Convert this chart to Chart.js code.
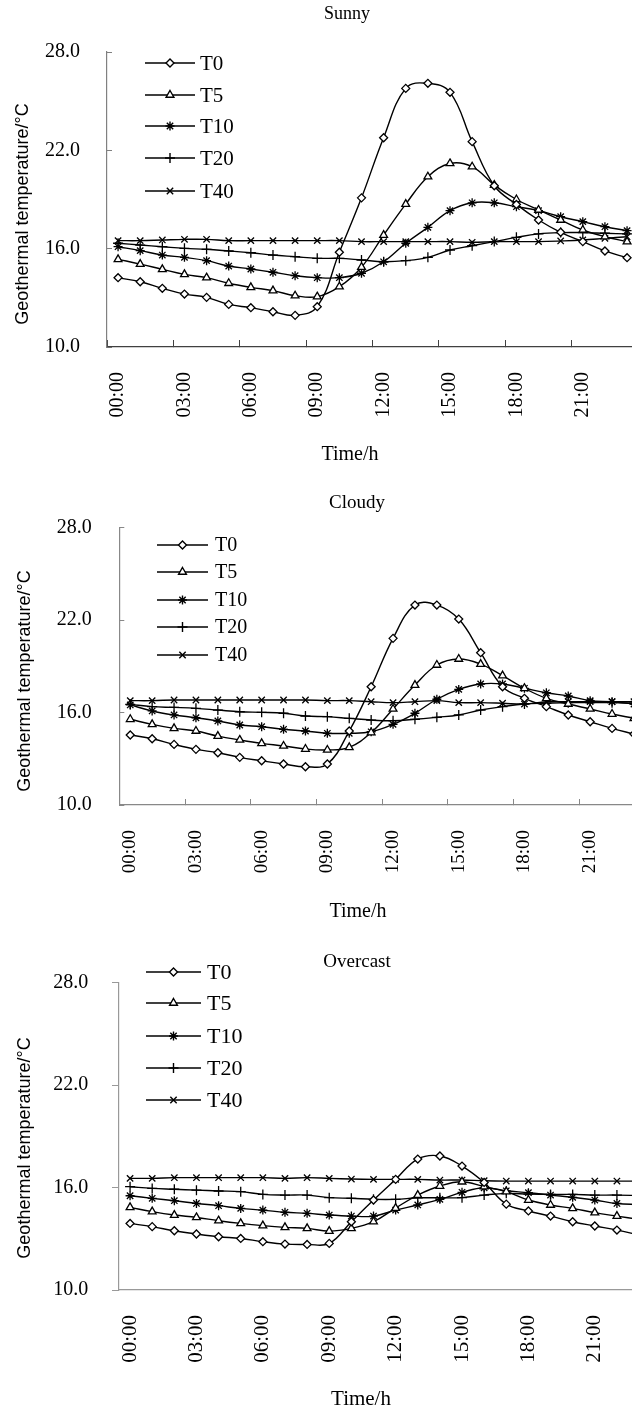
<!DOCTYPE html>
<html><head><meta charset="utf-8">
<script src="https://cdn.jsdelivr.net/npm/chart.js@4.4.0/dist/chart.umd.min.js"></script>
<style>
html,body{margin:0;padding:0;background:#fff;overflow:hidden;width:632px;height:1411px;position:relative}
.box{position:absolute;left:0}
canvas{display:block}
</style></head>
<body>
<div class="box" style="top:0px"><canvas id="c1" width="700" height="470"></canvas></div>
<div class="box" style="top:470px"><canvas id="c2" width="700" height="460"></canvas></div>
<div class="box" style="top:930px"><canvas id="c3" width="700" height="481"></canvas></div>
<script>
// ---------------- data ----------------
const hours = ['00:00','01:00','02:00','03:00','04:00','05:00','06:00','07:00','08:00','09:00','10:00','11:00',
               '12:00','13:00','14:00','15:00','16:00','17:00','18:00','19:00','20:00','21:00','22:00','23:00'];
const xTickLabels = ['00:00','03:00','06:00','09:00','12:00','15:00','18:00','21:00'];
const yTickValues = [10, 16, 22, 28];
const seriesNames = ['T0','T5','T10','T20','T40'];
const panelTitles = ['Sunny','Cloudy','Overcast'];
const xTitle = 'Time/h';
const yTitle = 'Geothermal temperature/°C';

const sunnyT0  = [14.23,13.98,13.58,13.23,13.03,12.6,12.4,12.15,11.93,12.46,15.78,19.1,22.77,25.78,26.09,25.54,22.53,19.84,18.7,17.75,17.0,16.43,15.86,15.45];
const sunnyT5  = [15.35,15.06,14.74,14.43,14.23,13.89,13.64,13.44,13.13,13.07,13.68,14.87,16.83,18.72,20.39,21.2,21.0,19.88,19.0,18.36,17.75,17.14,16.73,16.43];
const sunnyT10 = [16.12,15.88,15.61,15.47,15.27,14.94,14.76,14.56,14.35,14.23,14.23,14.5,15.2,16.33,17.3,18.32,18.8,18.8,18.56,18.32,17.95,17.65,17.34,17.1];
const sunnyT20 = [16.33,16.22,16.12,16.02,15.96,15.86,15.75,15.61,15.51,15.41,15.41,15.31,15.2,15.27,15.47,15.92,16.18,16.43,16.69,16.9,16.98,16.98,16.94,16.9];
const sunnyT40 = [16.49,16.49,16.53,16.57,16.57,16.49,16.49,16.49,16.49,16.49,16.49,16.43,16.43,16.43,16.43,16.43,16.39,16.43,16.43,16.43,16.47,16.53,16.63,16.73];

const cloudyT0  = [14.54,14.3,13.93,13.61,13.39,13.09,12.87,12.66,12.48,12.66,14.8,17.67,20.81,22.97,22.97,22.06,19.88,17.67,16.92,16.38,15.84,15.4,14.97,14.6];
const cloudyT5  = [15.56,15.23,14.97,14.8,14.47,14.22,14.0,13.83,13.63,13.57,13.74,14.7,16.23,17.78,19.08,19.47,19.14,18.39,17.57,16.92,16.55,16.23,15.9,15.62];
const cloudyT10 = [16.49,16.1,15.84,15.66,15.45,15.19,15.08,14.91,14.8,14.65,14.65,14.75,15.23,15.95,16.86,17.5,17.85,17.85,17.57,17.28,17.07,16.77,16.7,16.55];
const cloudyT20 = [16.53,16.38,16.33,16.27,16.16,16.05,16.01,15.95,15.77,15.73,15.62,15.51,15.47,15.56,15.69,15.84,16.16,16.38,16.55,16.6,16.64,16.64,16.64,16.6];
const cloudyT40 = [16.77,16.77,16.81,16.81,16.81,16.81,16.81,16.81,16.81,16.77,16.77,16.7,16.64,16.7,16.77,16.64,16.64,16.6,16.55,16.7,16.7,16.7,16.7,16.7];

const overcastT0  = [13.9,13.71,13.47,13.28,13.12,13.02,12.83,12.69,12.67,12.73,14.0,15.27,16.48,17.67,17.85,17.26,16.3,15.03,14.63,14.33,14.0,13.75,13.51,13.22];
const overcastT5  = [14.84,14.59,14.39,14.25,14.06,13.9,13.77,13.67,13.61,13.45,13.61,14.0,14.8,15.56,16.09,16.34,16.05,15.76,15.27,14.98,14.78,14.53,14.33,14.14];
const overcastT10 = [15.52,15.37,15.23,15.07,14.94,14.78,14.68,14.55,14.49,14.39,14.33,14.33,14.68,14.98,15.31,15.72,15.99,15.81,15.7,15.56,15.43,15.27,15.07,15.0];
const overcastT20 = [16.05,15.95,15.9,15.85,15.8,15.76,15.6,15.56,15.56,15.41,15.37,15.31,15.31,15.4,15.4,15.41,15.56,15.66,15.62,15.6,15.6,15.56,15.56,15.53];
const overcastT40 = [16.54,16.54,16.58,16.58,16.58,16.58,16.58,16.54,16.58,16.54,16.5,16.48,16.48,16.48,16.44,16.44,16.4,16.38,16.38,16.38,16.38,16.38,16.38,16.38];

// ---------------- styling ----------------
const SERIF = "'Liberation Serif','Times New Roman',serif";
const SANS = "'Liberation Sans',Arial,sans-serif";
const markerStyles = [
  {pointStyle:'rectRot', radius:4},
  {pointStyle:'triangle', radius:4.5},
  {pointStyle:'star', radius:4.5},
  {pointStyle:'cross', radius:5},
  {pointStyle:'crossRot', radius:4.5}
];

const annotPlugin = {
  id: 'annot',
  afterDraw(chart, args, o) {
    const ctx = chart.ctx;
    ctx.save();
    ctx.fillStyle = '#000';
    // panel title
    ctx.font = o.titleSize + 'px ' + SERIF;
    ctx.textAlign = 'center'; ctx.textBaseline = 'middle';
    ctx.fillText(o.title, o.titleX, o.titleY);
    // x axis title
    ctx.font = o.xTitleSize + 'px ' + SERIF;
    ctx.fillText(xTitle, o.xTitleX, o.xTitleY);
    // y axis title
    ctx.save();
    ctx.translate(o.yTitleX, o.yTitleY);
    ctx.rotate(-Math.PI / 2);
    ctx.font = o.yTitleSize + 'px ' + SANS;
    ctx.fillText(yTitle, 0, 0);
    ctx.restore();
    // legend
    chart.data.datasets.forEach((ds, i) => {
      const y = o.legendRows[i];
      ctx.strokeStyle = '#000'; ctx.lineWidth = 1.4;
      ctx.beginPath(); ctx.moveTo(o.legX1, y); ctx.lineTo(o.legX2, y); ctx.stroke();
      ctx.fillStyle = '#fff';
      Chart.helpers.drawPoint(ctx, {pointStyle: ds.pointStyle, radius: ds.pointRadius, borderWidth: 1.3, rotation: 0},
        (o.legX1 + o.legX2) / 2, y);
      ctx.fillStyle = '#000';
      ctx.font = o.legSize + 'px ' + SERIF;
      ctx.textAlign = 'left'; ctx.textBaseline = 'middle';
      ctx.fillText(ds.label, o.legTextX, y + 1);
    });
    ctx.restore();
  }
};

function makeChart(id, series, L) {
  const W = 700;
  const plotRight = L.plotLeft + 24 * L.catW;
  const datasets = series.map((vals, i) => ({
    label: seriesNames[i],
    data: vals,
    borderColor: '#000',
    borderWidth: 1.4,
    tension: 0.4,
    fill: false,
    pointStyle: markerStyles[i].pointStyle,
    pointRadius: markerStyles[i].radius,
    pointBackgroundColor: '#fff',
    pointBorderColor: '#000',
    pointBorderWidth: 1.3
  }));
  return new Chart(document.getElementById(id), {
    type: 'line',
    data: { labels: hours, datasets },
    plugins: [annotPlugin],
    options: {
      responsive: false,
      animation: false,
      events: [],
      layout: { padding: { left: 0, top: L.plotTop, right: W - plotRight, bottom: 0 } },
      plugins: {
        legend: { display: false },
        title: { display: false },
        tooltip: { enabled: false },
        annot: L.annot
      },
      scales: {
        x: {
          type: 'category',
          offset: true,
          grid: {
            offset: true,
            drawOnChartArea: false,
            drawTicks: L.xTicks !== 0,
            tickLength: L.xTicks,
            color: c => (c.index % 3 === 0) ? L.xColor : 'rgba(0,0,0,0)',
            lineWidth: 1
          },
          border: { display: true, color: L.xColor, width: 1.2 },
          ticks: {
            autoSkip: false, maxRotation: 90, minRotation: 90,
            padding: L.xPad,
            color: '#000',
            font: { family: SERIF, size: L.xFont },
            callback: function (v) { const s = this.getLabelForValue(v); return xTickLabels.includes(s) ? s : ''; }
          },
          afterFit: s => { s.height = L.H - L.plotBottom; s.paddingLeft = 0; s.paddingRight = 0; }
        },
        y: {
          min: 10, max: 28,
          afterBuildTicks: s => { s.ticks = yTickValues.map(v => ({ value: v })); },
          grid: { drawOnChartArea: false, tickLength: L.yTicks, color: L.yColor, lineWidth: 1 },
          border: { display: true, color: L.yColor, width: 1.2 },
          ticks: {
            padding: L.yPad,
            color: '#000',
            font: { family: SERIF, size: L.yFont },
            callback: v => Number(v).toFixed(1)
          },
          afterFit: s => { s.width = L.plotLeft; }
        }
      }
    }
  });
}

// chart 1: Sunny (canvas top 0)
makeChart('c1', [sunnyT0, sunnyT5, sunnyT10, sunnyT20, sunnyT40], {
  H: 470, plotLeft: 107, plotTop: 52, plotBottom: 347, catW: 22.13,
  xTicks: -7, xPad: 32, xFont: 20, xColor: '#404040',
  yTicks: -5, yPad: 32, yFont: 20, yColor: '#808080',
  annot: {
    title: panelTitles[0], titleX: 347, titleY: 14, titleSize: 18,
    xTitleX: 350, xTitleY: 455, xTitleSize: 20,
    yTitleX: 23, yTitleY: 214, yTitleSize: 18,
    legX1: 145, legX2: 195, legTextX: 200, legSize: 21,
    legendRows: [63, 95, 126, 158, 191]
  }
});

// chart 2: Cloudy (canvas top 470)
makeChart('c2', [cloudyT0, cloudyT5, cloudyT10, cloudyT20, cloudyT40], {
  H: 460, plotLeft: 119.3, plotTop: 57.5, plotBottom: 335, catW: 21.9,
  xTicks: -6, xPad: 31, xFont: 19, xColor: '#888888',
  yTicks: -5, yPad: 32.6, yFont: 20, yColor: '#888888',
  annot: {
    title: panelTitles[1], titleX: 357, titleY: 33, titleSize: 19,
    xTitleX: 358, xTitleY: 442, xTitleSize: 20,
    yTitleX: 25.5, yTitleY: 211, yTitleSize: 18,
    legX1: 157, legX2: 208, legTextX: 215, legSize: 20,
    legendRows: [75, 102, 130, 157, 185]
  }
});

// chart 3: Overcast (canvas top 930)
makeChart('c3', [overcastT0, overcastT5, overcastT10, overcastT20, overcastT40], {
  H: 481, plotLeft: 119, plotTop: 52.7, plotBottom: 360, catW: 22.13,
  xTicks: 0, xPad: 25, xFont: 21, xColor: '#999999',
  yTicks: 7, yPad: 23.7, yFont: 20, yColor: '#999999',
  annot: {
    title: panelTitles[2], titleX: 357, titleY: 32, titleSize: 19,
    xTitleX: 361, xTitleY: 469, xTitleSize: 21,
    yTitleX: 25, yTitleY: 218, yTitleSize: 18,
    legX1: 146, legX2: 201, legTextX: 207, legSize: 22,
    legendRows: [42, 73, 106, 138, 170]
  }
});
</script>
</body></html>
